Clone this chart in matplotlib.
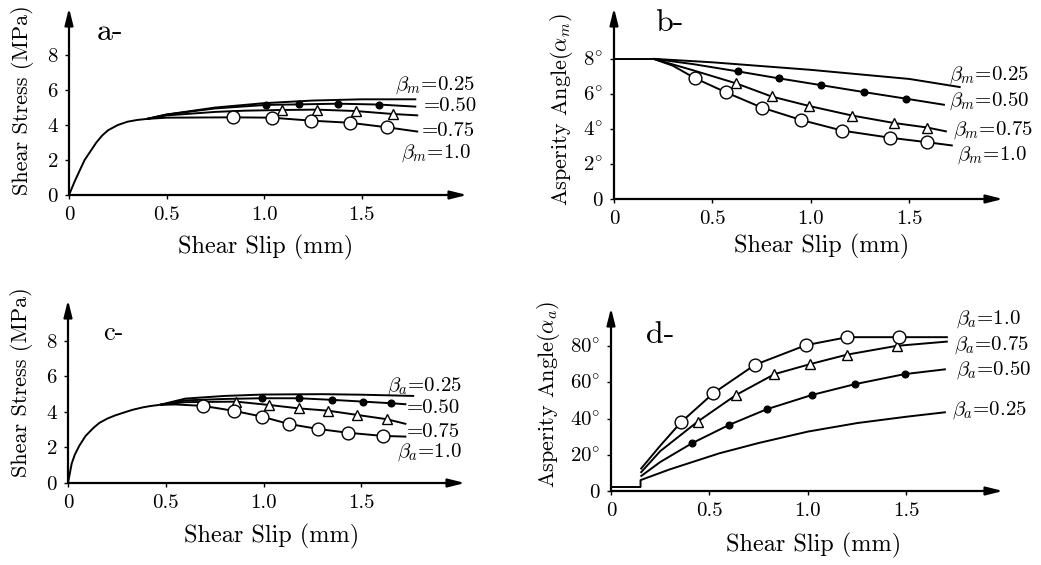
import matplotlib
matplotlib.use("Agg")
import matplotlib.pyplot as plt

plt.rcParams['font.family'] = ['cmr10', 'DejaVu Serif']
plt.rcParams['mathtext.fontset'] = 'cm'
plt.rcParams['axes.unicode_minus'] = False
plt.rcParams['axes.formatter.use_mathtext'] = True

# ---------------- data ----------------
# a- : shear stress vs slip, beta_m
a_rise_x = [0, 0.03, 0.056, 0.08, 0.107, 0.14, 0.17, 0.2, 0.25, 0.3, 0.35, 0.4]
a_rise_y = [0, 0.8, 1.43, 2.0, 2.45, 3.0, 3.4, 3.7, 4.0, 4.19, 4.29, 4.35]
a_025_x = [0.4, 0.5, 0.75, 1.0, 1.25, 1.5, 1.78]
a_025_y = [4.35, 4.6, 5.0, 5.25, 5.4, 5.47, 5.47]
a_050_x = [0.4, 0.5, 0.75, 1.01, 1.18, 1.38, 1.59, 1.78]
a_050_y = [4.35, 4.6, 4.95, 5.15, 5.18, 5.22, 5.17, 5.05]
a_050_mx = [1.01, 1.18, 1.38, 1.59]
a_050_my = [5.15, 5.18, 5.22, 5.17]
a_075_x = [0.4, 0.5, 0.75, 0.9, 1.09, 1.27, 1.47, 1.66, 1.79]
a_075_y = [4.35, 4.55, 4.75, 4.82, 4.86, 4.88, 4.8, 4.63, 4.55]
a_075_mx = [1.09, 1.27, 1.47, 1.66]
a_075_my = [4.86, 4.88, 4.8, 4.63]
a_100_x = [0.4, 0.5, 0.84, 1.04, 1.24, 1.44, 1.63, 1.79]
a_100_y = [4.35, 4.42, 4.44, 4.42, 4.25, 4.13, 3.87, 3.62]
a_100_mx = [0.84, 1.04, 1.24, 1.44, 1.63]
a_100_my = [4.44, 4.42, 4.25, 4.13, 3.87]

# b- : asperity angle vs slip, beta_m
b_flat_x = [0, 0.2]
b_flat_y = [8, 8]
b_025_x = [0.2, 0.5, 1.0, 1.5, 1.76]
b_025_y = [8, 7.8, 7.37, 6.85, 6.38]
b_050_x = [0.2, 0.4, 0.63, 0.84, 1.05, 1.27, 1.48, 1.68]
b_050_y = [8, 7.7, 7.28, 6.88, 6.5, 6.1, 5.73, 5.37]
b_050_mx = [0.63, 0.84, 1.05, 1.27, 1.48]
b_050_my = [7.28, 6.88, 6.5, 6.1, 5.73]
b_075_x = [0.2, 0.4, 0.62, 0.80, 0.99, 1.21, 1.42, 1.59, 1.69]
b_075_y = [8, 7.35, 6.6, 5.85, 5.31, 4.76, 4.34, 4.08, 3.85]
b_075_mx = [0.62, 0.80, 0.99, 1.21, 1.42, 1.59]
b_075_my = [6.6, 5.85, 5.31, 4.76, 4.34, 4.08]
b_100_x = [0.2, 0.3, 0.41, 0.57, 0.75, 0.95, 1.16, 1.40, 1.59, 1.72]
b_100_y = [8, 7.6, 6.9, 6.08, 5.22, 4.51, 3.9, 3.5, 3.24, 3.05]
b_100_mx = [0.41, 0.57, 0.75, 0.95, 1.16, 1.40, 1.59]
b_100_my = [6.9, 6.08, 5.22, 4.51, 3.9, 3.5, 3.24]

# c- : shear stress vs slip, beta_a
c_rise_x = [0, 0.019, 0.035, 0.058, 0.09, 0.13, 0.16, 0.2, 0.24, 0.29, 0.33, 0.38, 0.42, 0.47]
c_rise_y = [0, 1.1, 1.6, 2.1, 2.65, 3.1, 3.38, 3.62, 3.8, 3.98, 4.12, 4.25, 4.33, 4.4]
c_025_x = [0.47, 0.6, 0.8, 1.0, 1.3, 1.5, 1.77]
c_025_y = [4.4, 4.75, 4.9, 4.98, 5.0, 4.97, 4.9]
c_050_x = [0.47, 0.6, 0.8, 0.99, 1.18, 1.35, 1.51, 1.65, 1.73]
c_050_y = [4.4, 4.65, 4.73, 4.77, 4.77, 4.68, 4.58, 4.49, 4.43]
c_050_mx = [0.99, 1.18, 1.35, 1.51, 1.65]
c_050_my = [4.77, 4.77, 4.68, 4.58, 4.49]
c_075_x = [0.47, 0.6, 0.86, 1.03, 1.18, 1.33, 1.48, 1.63, 1.73]
c_075_y = [4.4, 4.55, 4.58, 4.39, 4.2, 4.07, 3.83, 3.59, 3.32]
c_075_mx = [0.86, 1.03, 1.18, 1.33, 1.48, 1.63]
c_075_my = [4.58, 4.39, 4.2, 4.07, 3.83, 3.59]
c_100_x = [0.47, 0.55, 0.69, 0.85, 0.99, 1.13, 1.28, 1.43, 1.61, 1.73]
c_100_y = [4.4, 4.42, 4.34, 4.06, 3.74, 3.32, 3.04, 2.83, 2.65, 2.61]
c_100_mx = [0.69, 0.85, 0.99, 1.13, 1.28, 1.43, 1.61]
c_100_my = [4.34, 4.06, 3.74, 3.32, 3.04, 2.83, 2.65]

# d- : asperity angle vs slip, beta_a
d_flat_x = [0, 0.15]
d_flat_y = [2, 2]
d_025_x = [0.15, 0.15, 0.3, 0.55, 0.75, 1.0, 1.25, 1.5, 1.7]
d_025_y = [2, 6, 12, 20.8, 26.5, 32.8, 37.5, 41, 43.5]
d_050_x = [0.15, 0.25, 0.41, 0.60, 0.79, 1.02, 1.24, 1.49, 1.70]
d_050_y = [8, 16, 26.3, 36.5, 45.1, 53, 59, 64.5, 67.2]
d_050_mx = [0.41, 0.60, 0.79, 1.02, 1.24, 1.49]
d_050_my = [26.3, 36.5, 45.1, 53, 59, 64.5]
d_075_x = [0.15, 0.25, 0.44, 0.635, 0.83, 1.01, 1.2, 1.45, 1.71]
d_075_y = [10, 22, 38.3, 53, 64.5, 70, 75.3, 80.1, 82.5]
d_075_mx = [0.44, 0.635, 0.83, 1.01, 1.2, 1.45]
d_075_my = [38.3, 53, 64.5, 70, 75.3, 80.1]
d_100_x = [0.15, 0.25, 0.355, 0.52, 0.73, 0.99, 1.2, 1.46, 1.71]
d_100_y = [12, 25, 37.9, 54, 69.6, 80.5, 84.9, 84.9, 84.9]
d_100_mx = [0.355, 0.52, 0.73, 0.99, 1.2, 1.46]
d_100_my = [37.9, 54, 69.6, 80.5, 84.9, 84.9]

x_ticks = [0, 0.5, 1.0, 1.5]
x_tick_labels = ["0", "0.5", "1.0", "1.5"]
stress_ticks = [0, 2, 4, 6, 8]
stress_labels = ["0", "2", "4", "6", "8"]
angle_m_ticks = [0, 2, 4, 6, 8]
angle_m_labels = ["0", r"2$^{\circ}$", r"4$^{\circ}$", r"6$^{\circ}$", r"8$^{\circ}$"]
angle_a_ticks = [0, 20, 40, 60, 80]
angle_a_labels = ["0", r"20$^{\circ}$", r"40$^{\circ}$", r"60$^{\circ}$", r"80$^{\circ}$"]

# ---------------- figure ----------------
W, H = 1041, 565
fig = plt.figure(figsize=(W / 100, H / 100), dpi=100)


def make_axes(left, top, right, bottom):
    return fig.add_axes([left / W, 1 - bottom / H, (right - left) / W, (bottom - top) / H])


def setup(ax, xmax, ymax, yticks, ylabels, ylabel, ylab_pos, xlab_pos):
    ax.set_xlim(0, xmax)
    ax.set_ylim(0, ymax)
    for s in ax.spines.values():
        s.set_visible(False)
    arrow = dict(arrowstyle='-|>,head_length=1.0,head_width=0.25',
                 color='black', lw=1.6, shrinkA=0, shrinkB=0)
    ax.annotate('', xy=(1, 0), xytext=(0, 0), xycoords='axes fraction', arrowprops=arrow)
    ax.annotate('', xy=(0, 1), xytext=(0, 0), xycoords='axes fraction', arrowprops=arrow)
    ax.set_xticks(x_ticks)
    ax.set_xticklabels(x_tick_labels)
    ax.set_yticks(yticks)
    ax.set_yticklabels(ylabels)
    ax.tick_params(direction='out', length=3, width=1, labelsize=15, pad=5)
    ax.set_xlabel("Shear Slip (mm)", fontsize=17.5)
    ax.set_ylabel(ylabel, fontsize=16)
    ax.xaxis.label.set_va('center')
    ax.yaxis.label.set_va('center')
    ax.xaxis.set_label_coords(*xlab_pos)
    ax.yaxis.set_label_coords(*ylab_pos)
    ax.set_facecolor('none')


line_kw = dict(color='black', lw=1.4, solid_capstyle='butt', solid_joinstyle='round')
dot_kw = dict(ls='none', marker='o', ms=4.8, mfc='black', mec='black')
tri_kw = dict(ls='none', marker='^', ms=7.5, mfc='white', mec='black', mew=1)
circ_kw = dict(ls='none', marker='o', ms=9.2, mfc='white', mec='black', mew=1)
lab_kw = dict(fontsize=15, ha='left', va='center')

# a-
ax = make_axes(69, 8, 467, 195)
setup(ax, 2.04, 10.69, stress_ticks, stress_labels, "Shear Stress (MPa)",
      (-0.116, 0.51), (0.494, -0.283))
ax.plot(a_rise_x, a_rise_y, **line_kw)
ax.plot(a_025_x, a_025_y, **line_kw)
ax.plot(a_050_x, a_050_y, **line_kw)
ax.plot(a_075_x, a_075_y, **line_kw)
ax.plot(a_100_x, a_100_y, **line_kw)
ax.plot(a_050_mx, a_050_my, **dot_kw)
ax.plot(a_075_mx, a_075_my, **tri_kw)
ax.plot(a_100_mx, a_100_my, **circ_kw)
ax.text(1.67, 6.3, r"$\beta_m$=0.25", **lab_kw)
ax.text(1.82, 5.1, "=0.50", **lab_kw)
ax.text(1.81, 3.66, "=0.75", **lab_kw)
ax.text(1.70, 2.4, r"$\beta_m$=1.0", **lab_kw)
ax.text(0.14, 9.3, "a-", fontsize=23, ha='left', va='center')

# b-
ax = make_axes(614, 8, 1003, 199)
setup(ax, 1.975, 10.9, angle_m_ticks, angle_m_labels, r"Asperity Angle($\alpha_m$)",
      (-0.134, 0.47), (0.534, -0.25))
ax.plot(b_flat_x, b_flat_y, **line_kw)
ax.plot(b_025_x, b_025_y, **line_kw)
ax.plot(b_050_x, b_050_y, **line_kw)
ax.plot(b_075_x, b_075_y, **line_kw)
ax.plot(b_100_x, b_100_y, **line_kw)
ax.plot(b_050_mx, b_050_my, **dot_kw)
ax.plot(b_075_mx, b_075_my, **tri_kw)
ax.plot(b_100_mx, b_100_my, **circ_kw)
ax.text(1.70, 7.09, r"$\beta_m$=0.25", **lab_kw)
ax.text(1.70, 5.56, r"$\beta_m$=0.50", **lab_kw)
ax.text(1.72, 3.94, r"$\beta_m$=0.75", **lab_kw)
ax.text(1.74, 2.5, r"$\beta_m$=1.0", **lab_kw)
ax.text(0.21, 10.0, "b-", fontsize=23, ha='left', va='center')

# c-
ax = make_axes(68, 300, 465, 483)
setup(ax, 2.03, 10.3, stress_ticks, stress_labels, "Shear Stress (MPa)",
      (-0.117, 0.55), (0.513, -0.293))
ax.plot(c_rise_x, c_rise_y, **line_kw)
ax.plot(c_025_x, c_025_y, **line_kw)
ax.plot(c_050_x, c_050_y, **line_kw)
ax.plot(c_075_x, c_075_y, **line_kw)
ax.plot(c_100_x, c_100_y, **line_kw)
ax.plot(c_050_mx, c_050_my, **dot_kw)
ax.plot(c_075_mx, c_075_my, **tri_kw)
ax.plot(c_100_mx, c_100_my, **circ_kw)
ax.text(1.63, 5.46, r"$\beta_a$=0.25", **lab_kw)
ax.text(1.73, 4.24, "=0.50", **lab_kw)
ax.text(1.73, 2.89, "=0.75", **lab_kw)
ax.text(1.68, 1.71, r"$\beta_a$=1.0", **lab_kw)
ax.text(0.18, 8.45, "c-", fontsize=19, ha='left', va='center')

# d-
ax = make_axes(611, 308, 1003, 491)
setup(ax, 1.99, 101, angle_a_ticks, angle_a_labels, r"Asperity Angle($\alpha_a$)",
      (-0.16, 0.53), (0.516, -0.30))
ax.plot(d_flat_x, d_flat_y, **line_kw)
ax.plot(d_025_x, d_025_y, **line_kw)
ax.plot(d_050_x, d_050_y, **line_kw)
ax.plot(d_075_x, d_075_y, **line_kw)
ax.plot(d_100_x, d_100_y, **line_kw)
ax.plot(d_050_mx, d_050_my, **dot_kw)
ax.plot(d_075_mx, d_075_my, **tri_kw)
ax.plot(d_100_mx, d_100_my, **circ_kw)
ax.text(1.75, 94.9, r"$\beta_a$=1.0", **lab_kw)
ax.text(1.74, 80.7, r"$\beta_a$=0.75", **lab_kw)
ax.text(1.75, 66.9, r"$\beta_a$=0.50", **lab_kw)
ax.text(1.73, 44.8, r"$\beta_a$=0.25", **lab_kw)
ax.text(0.18, 86, "d-", fontsize=23, ha='left', va='center')

fig.savefig("out.png", dpi=100)
